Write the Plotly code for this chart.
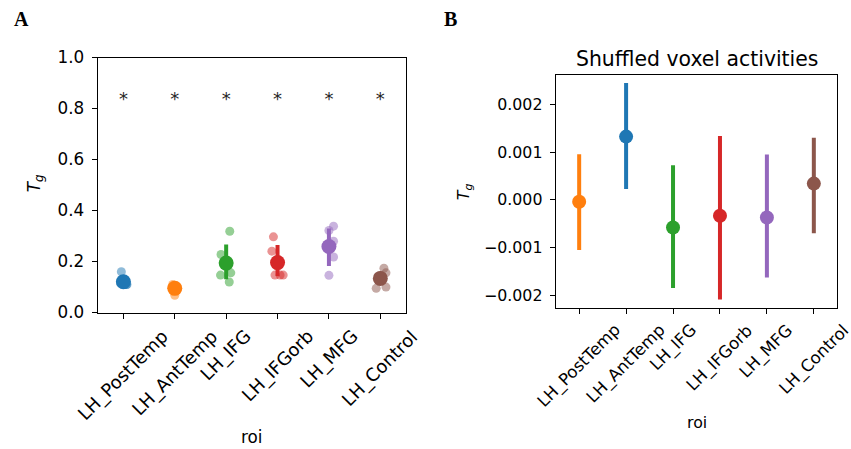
import plotly.graph_objects as go

W, H = 851, 449

rois = ["LH_PostTemp", "LH_AntTemp", "LH_IFG", "LH_IFGorb", "LH_MFG", "LH_Control"]
colors = ["#1f77b4", "#ff7f0e", "#2ca02c", "#d62728", "#9467bd", "#8c564b"]
light = ["rgba(31,119,180,0.5)", "rgba(255,127,14,0.5)", "rgba(44,160,44,0.5)",
         "rgba(214,39,40,0.5)", "rgba(148,103,189,0.5)", "rgba(140,86,75,0.5)"]

# Panel A: per-subject values (5 subjects) and stripplot jitter
subject_values = [
    [0.160, 0.110, 0.115, 0.110, 0.110],
    [0.068, 0.110, 0.100, 0.100, 0.097],
    [0.319, 0.228, 0.147, 0.156, 0.120],
    [0.297, 0.241, 0.147, 0.147, 0.147],
    [0.339, 0.322, 0.280, 0.218, 0.146],
    [0.174, 0.156, 0.095, 0.100, 0.145],
]
subject_jitter = [
    [-0.04, 0.07, -0.05, 0.06, 0.02],
    [0.0, -0.04, 0.05, -0.06, 0.03],
    [0.07, -0.10, -0.11, 0.09, 0.06],
    [-0.08, -0.11, -0.05, 0.05, 0.11],
    [0.09, 0.0, 0.09, 0.09, 0.0],
    [0.07, 0.11, -0.08, 0.11, 0.0],
]
mean_a = [0.121, 0.095, 0.194, 0.196, 0.259, 0.134]
ci_lo_a = [0.108, 0.082, 0.131, 0.143, 0.183, 0.110]
ci_hi_a = [0.140, 0.105, 0.267, 0.265, 0.330, 0.155]
signif_y = 0.83

# Panel B: shuffled voxel activities
colors_b = ["#ff7f0e", "#1f77b4", "#2ca02c", "#d62728", "#9467bd", "#8c564b"]
mean_b = [-0.00004, 0.001325, -0.00058, -0.000335, -0.00037, 0.00034]
ci_lo_b = [-0.00105, 0.000224, -0.00185, -0.00209, -0.00163, -0.00070]
ci_hi_b = [0.000956, 0.00245, 0.000726, 0.00134, 0.000948, 0.00130]

FONT = "DejaVu Sans"
FS_A = 16.8
FS_B = 15.8


def px_x(p):
    return p / W


def px_y(p):
    # target pixel row -> paper fraction (compensating the observed vertical scale)
    q = (p - 8.3) / 0.958
    return 1 - q / H


fig = go.Figure()

# ---- Panel A ----
for i in range(len(rois)):
    fig.add_trace(go.Scatter(
        x=[i + j for j in subject_jitter[i]], y=subject_values[i],
        mode="markers", xaxis="x", yaxis="y",
        marker=dict(size=9, color=light[i], line=dict(width=0)),
        showlegend=False, hoverinfo="skip"))
for i in range(len(rois)):
    fig.add_trace(go.Scatter(
        x=[i], y=[mean_a[i]], mode="markers", xaxis="x", yaxis="y",
        marker=dict(size=15, color=colors[i], line=dict(width=0)),
        error_y=dict(type="data", symmetric=False,
                     array=[ci_hi_a[i] - mean_a[i]],
                     arrayminus=[mean_a[i] - ci_lo_a[i]],
                     thickness=4, width=0, color=colors[i]),
        showlegend=False))
fig.add_trace(go.Scatter(
    x=list(range(len(rois))), y=[signif_y] * len(rois), mode="text",
    text=["*"] * len(rois), textposition="middle center",
    textfont=dict(family=FONT, size=18, color="#262626"),
    xaxis="x", yaxis="y", showlegend=False))

# ---- Panel B ----
for i in range(len(rois)):
    fig.add_trace(go.Scatter(
        x=[i], y=[mean_b[i]], mode="markers", xaxis="x2", yaxis="y2",
        marker=dict(size=14, color=colors_b[i], line=dict(width=0)),
        error_y=dict(type="data", symmetric=False,
                     array=[ci_hi_b[i] - mean_b[i]],
                     arrayminus=[mean_b[i] - ci_lo_b[i]],
                     thickness=4, width=0, color=colors_b[i]),
        showlegend=False))

axis_common = dict(showline=True, mirror=True, linecolor="black", linewidth=1.2,
                   ticks="outside", ticklen=5, tickwidth=1.2, tickcolor="black",
                   showgrid=False, zeroline=False)

fig.update_layout(
    width=W, height=H, margin=dict(l=0, r=0, t=0, b=0, pad=0),
    autosize=False,
    paper_bgcolor="white", plot_bgcolor="white",
    xaxis=dict(domain=[px_x(97.7), px_x(406)], range=[-0.5, 5.5],
               tickvals=list(range(len(rois))), showticklabels=False,
               anchor="y", **axis_common),
    yaxis=dict(domain=[px_y(311.7), px_y(56)], range=[0, 1.0],
               tickvals=[0, 0.2, 0.4, 0.6, 0.8, 1.0], tickformat=".1f",
               tickfont=dict(family=FONT, size=FS_A, color="black"),
               ticklabelstandoff=4, anchor="x", **axis_common),
    xaxis2=dict(domain=[px_x(555.7), px_x(837.3)], range=[-0.5, 5.5],
                tickvals=list(range(len(rois))), showticklabels=False,
                anchor="y2", **axis_common),
    yaxis2=dict(domain=[px_y(306.7), px_y(73.3)], range=[-0.00226, 0.00262],
                tickvals=[-0.002, -0.001, 0, 0.001, 0.002], tickformat=".3f",
                tickfont=dict(family=FONT, size=FS_B, color="black"),
                ticklabelstandoff=4, anchor="x2", **axis_common),
)

ann = []
# rotated category labels
for i, r in enumerate(rois):
    ann.append(dict(x=i, y=px_y(322), xref="x", yref="paper", text=r,
                    textangle=-45, showarrow=False, xanchor="center", yanchor="top",
                    font=dict(family=FONT, size=18, color="black")))
    ann.append(dict(x=i, y=px_y(317), xref="x2", yref="paper", text=r,
                    textangle=-45, showarrow=False, xanchor="center", yanchor="top",
                    font=dict(family=FONT, size=16.6, color="black")))
# axis titles
ann.append(dict(x=px_x(251.7), y=px_y(436.7), xref="paper", yref="paper", text="roi",
                showarrow=False, xanchor="center", yanchor="middle",
                font=dict(family=FONT, size=FS_A, color="black")))
ann.append(dict(x=px_x(696.7), y=px_y(421.7), xref="paper", yref="paper", text="roi",
                showarrow=False, xanchor="center", yanchor="middle",
                font=dict(family=FONT, size=FS_B, color="black")))
ann.append(dict(x=px_x(35), y=px_y(182), xref="paper", yref="paper",
                text="<i>T</i><sub><i>g</i></sub>", textangle=-90,
                showarrow=False, xanchor="center", yanchor="middle",
                font=dict(family=FONT, size=FS_A, color="black")))
ann.append(dict(x=px_x(464), y=px_y(190), xref="paper", yref="paper",
                text="<i>T</i><sub><i>g</i></sub>", textangle=-90,
                showarrow=False, xanchor="center", yanchor="middle",
                font=dict(family=FONT, size=FS_B, color="black")))
# title of panel B
ann.append(dict(x=px_x(696.7), y=px_y(57), xref="paper", yref="paper",
                text="Shuffled voxel activities", showarrow=False,
                xanchor="center", yanchor="middle",
                font=dict(family=FONT, size=20.4, color="black")))
# panel letters
ann.append(dict(x=px_x(21), y=px_y(17.5), xref="paper", yref="paper", text="<b>A</b>",
                showarrow=False, xanchor="center", yanchor="middle",
                font=dict(family="Liberation Serif", size=20, color="black")))
ann.append(dict(x=px_x(450), y=px_y(17.5), xref="paper", yref="paper", text="<b>B</b>",
                showarrow=False, xanchor="center", yanchor="middle",
                font=dict(family="Liberation Serif", size=20, color="black")))
fig.update_layout(annotations=ann)

fig.write_html("out.html")
